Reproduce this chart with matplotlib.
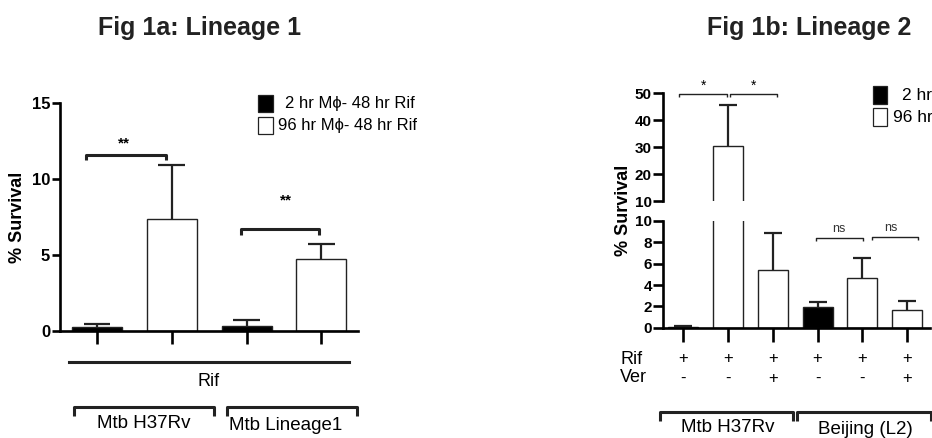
import numpy as np
import matplotlib
matplotlib.use("Agg")
import matplotlib.pyplot as plt
from matplotlib.patches import Rectangle
from matplotlib.transforms import blended_transform_factory

W, H = 932, 438

# Fig 1a: Lineage 1
a_means = [0.26, 7.35, 0.28, 4.72]
a_errs = [0.16, 3.55, 0.42, 1.02]
a_colors = ['black', 'white', 'black', 'white']
a_groups = ['Mtb H37Rv', 'Mtb Lineage1']
a_legend = ['2 hr M\u03d5- 48 hr Rif', '96 hr M\u03d5- 48 hr Rif']
a_yticks = [0, 5, 10, 15]
a_sig = ['**', '**']

# Fig 1b: Lineage 2
b_means = [0.1, 30.5, 5.45, 1.95, 4.7, 1.68]
b_errs = [0.05, 15.1, 3.4, 0.45, 1.85, 0.78]
b_colors = ['black', 'white', 'white', 'black', 'white', 'white']
b_rif = ['+', '+', '+', '+', '+', '+']
b_ver = ['-', '-', '+', '-', '-', '+']
b_groups = ['Mtb H37Rv', 'Beijing (L2)']
b_legend = ['2 hr', '96 hr']
b_low_ticks = [0, 2, 4, 6, 8, 10]
b_high_ticks = [10, 20, 30, 40, 50]

SANS = ['Liberation Sans', 'DejaVu Sans']
plt.rcParams['font.family'] = SANS

fig = plt.figure(figsize=(W / 100, H / 100), dpi=100)


def px_axes(l, t, r, b):
    return fig.add_axes([l / W, 1 - b / H, (r - l) / W, (b - t) / H])


def style(ax, lw=1.9):
    for s in ['top', 'right']:
        ax.spines[s].set_visible(False)
    for s in ['left', 'bottom']:
        ax.spines[s].set_linewidth(lw)
    ax.tick_params(width=lw, length=6, color='black')
    ax.patch.set_visible(False)


def bars(ax, means, errs, colors, width, cap):
    x = np.arange(len(means))
    ax.bar(x, means, width, color=colors, edgecolor='#222222', linewidth=1.0, zorder=2)
    tops = np.array(means) + np.array(errs)
    ax.vlines(x, means, tops, color='#222222', linewidth=1.6, zorder=3)
    ax.hlines(tops, x - cap, x + cap, color='#222222', linewidth=1.6, zorder=3)
    return x


def bracket(ax, x0, x1, y, leg, lw=2.2, trans=None):
    kw = dict(color='#222222', linewidth=lw, clip_on=False, solid_capstyle='butt')
    if trans is not None:
        kw['transform'] = trans
    ax.plot([x0, x0, x1, x1], [y - leg, y, y, y - leg], **kw)


# ---------------- Fig 1a ----------------
ax = px_axes(60, 103.3, 358, 330.7)
style(ax)
xa = bars(ax, a_means, a_errs, a_colors, 0.67, 0.18)
ax.set_xlim(-0.495, 3.49)
ax.set_ylim(0, 15)
ax.set_xticks(xa)
ax.set_xticklabels([])
ax.tick_params(axis='x', length=9)
ax.set_yticks(a_yticks)
ax.set_yticklabels([str(t) for t in a_yticks], fontsize=12, fontweight='bold')
ax.tick_params(axis='y', pad=1)
ax.set_ylabel('% Survival', fontsize=13, fontweight='bold', labelpad=4)

bracket(ax, -0.15, 0.92, 11.6, 0.35)
bracket(ax, 1.93, 2.97, 6.7, 0.4)
ax.text(0.36, 11.9, a_sig[0], ha='center', va='bottom', fontsize=11, fontweight='bold')
ax.text(2.53, 8.15, a_sig[1], ha='center', va='bottom', fontsize=11, fontweight='bold')

# ---------------- Fig 1b ----------------
lo = px_axes(663, 221, 930, 327.7)
hi = px_axes(663, 93.3, 930, 201)
for a in (lo, hi):
    style(a)
    bars(a, b_means, b_errs, b_colors, 0.67, 0.2)
    a.set_xlim(-0.45, 5.51)
hi.spines['bottom'].set_visible(False)
hi.tick_params(axis='x', bottom=False, labelbottom=False)
lo.set_ylim(0, 10)
hi.set_ylim(10, 50)
lo.set_xticks(np.arange(len(b_means)))
lo.set_xticklabels([])
lo.tick_params(axis='x', length=10)
lo.set_yticks(b_low_ticks)
lo.set_yticklabels([str(t) for t in b_low_ticks], fontsize=11, fontweight='bold')
hi.set_yticks(b_high_ticks)
hi.set_yticklabels([str(t) for t in b_high_ticks], fontsize=11, fontweight='bold')
for a in (lo, hi):
    a.tick_params(axis='y', pad=1, length=7)
fig.text(623 / W, 1 - 210 / H, '% Survival', rotation=90, ha='center', va='center',
         fontsize=13, fontweight='bold')

# significance
bracket(hi, -0.09, 0.98, 49.7, 1.1, lw=1.0)
bracket(hi, 1.05, 2.1, 49.7, 1.1, lw=1.0)
hi.text(0.45, 50.3, '*', ha='center', va='bottom', fontsize=10, clip_on=False)
hi.text(1.56, 50.3, '*', ha='center', va='bottom', fontsize=10, clip_on=False)
bracket(lo, 2.97, 4.02, 8.4, 0.3, lw=1.0)
bracket(lo, 4.22, 5.25, 8.5, 0.3, lw=1.0)
lo.text(3.48, 8.7, 'ns', ha='center', va='bottom', fontsize=9, color='#333333')
lo.text(4.64, 8.8, 'ns', ha='center', va='bottom', fontsize=9, color='#333333')

# overlay in pixel units for titles, legends and the labels under the axes
over = fig.add_axes([0, 0, 1, 1])
over.set_xlim(0, W)
over.set_ylim(H, 0)
over.axis('off')
over.set_zorder(10)

# legend 1a
for i, (lab, col) in enumerate(zip(a_legend, a_colors[:2])):
    y0 = 95 + i * 22
    over.add_patch(Rectangle((258, y0), 15, 17, facecolor=col, edgecolor='#222222',
                             linewidth=0.9))
    over.text(285 - 7 * i, y0 + 8.5, lab, ha='left', va='center', fontsize=12)

# labels under the 1a x axis
ta = blended_transform_factory(ax.transData, over.transData)
over.plot([-0.375, 3.37], [362, 362], color='#222222', linewidth=2.2, transform=ta,
          clip_on=False)
over.text(1.49, 382, 'Rif', ha='center', va='center', fontsize=13, transform=ta)
bracket(over, -0.31, 1.57, 407, -9, trans=ta)
bracket(over, 1.74, 3.47, 407, -9, trans=ta)
over.text(0.62, 423, a_groups[0], ha='center', va='center', fontsize=13.5, transform=ta)
over.text(2.52, 426, a_groups[1], ha='center', va='center', fontsize=13.5, transform=ta)

over.text(200, 28, 'Fig 1a: Lineage 1', ha='center', va='center', fontsize=18,
          fontweight='bold', color='#222222')

# legend 1b
for i, (lab, col) in enumerate(zip(b_legend, [b_colors[0], b_colors[1]])):
    y0 = 86 + i * 22
    over.add_patch(Rectangle((873, y0), 14, 18, facecolor=col, edgecolor='#222222',
                             linewidth=0.9))
    over.text(902 - 9 * i, y0 + 9, lab, ha='left', va='center', fontsize=12.5)

# treatment table and groups under 1b
tb = blended_transform_factory(lo.transData, over.transData)
over.text(620, 359, 'Rif', ha='left', va='center', fontsize=13)
over.text(620, 378, 'Ver', ha='left', va='center', fontsize=13)
for i, (r, v) in enumerate(zip(b_rif, b_ver)):
    over.text(i, 359, r, ha='center', va='center', fontsize=12, transform=tb)
    over.text(i, 378, v, ha='center', va='center', fontsize=12, transform=tb)
bracket(over, -0.51, 2.46, 412, -9, trans=tb)
bracket(over, 2.54, 5.54, 412, -9, trans=tb)
over.text(1.0, 427, b_groups[0], ha='center', va='center', fontsize=13.5, transform=tb)
over.text(4.06, 430, b_groups[1], ha='center', va='center', fontsize=13.5, transform=tb)

over.text(809, 28, 'Fig 1b: Lineage 2', ha='center', va='center', fontsize=18,
          fontweight='bold', color='#222222')

fig.savefig('out.png', dpi=100)
